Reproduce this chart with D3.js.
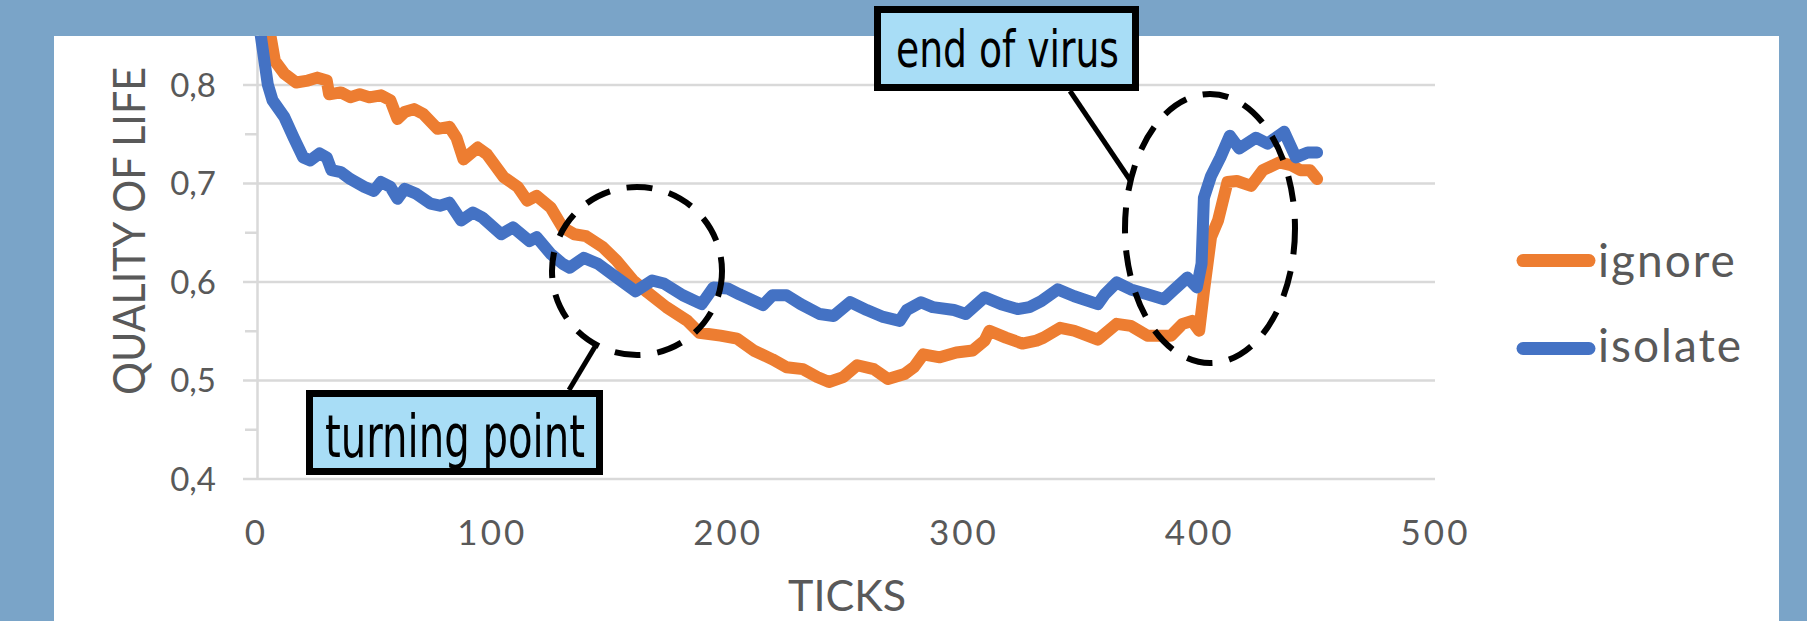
<!DOCTYPE html>
<html>
<head>
<meta charset="utf-8">
<script src="https://cdn.jsdelivr.net/npm/d3@7"></script>
<style>
  html, body { margin: 0; padding: 0; background: #7aa4c8; overflow: hidden; }
</style>
</head>
<body>
<div class="container"></div>
<script>
// chart data
const xTicks = [0, 100, 200, 300, 400, 500];
const yTicks = [0.4, 0.5, 0.6, 0.7, 0.8];
const yMinorTicks = [0.45, 0.55, 0.65, 0.75];
const seriesNames = ["ignore", "isolate"];

const ignoreTicks = [0, 5, 8, 12, 17, 22, 26, 30, 31, 36, 40, 44, 48, 53, 57, 60, 63, 67, 71, 77, 82, 85, 88, 94, 98,
  105, 111, 115, 119, 125, 130, 135, 140, 147, 153, 160, 166, 174, 183, 188, 197, 204, 211, 219, 225, 232, 238, 243,
  249, 255, 262, 268, 275, 279, 283, 290, 297, 304, 309, 311, 318, 325, 331, 334, 341, 347, 357, 365, 371, 378, 388,
  393, 397, 400, 402, 405, 408, 412, 416, 422, 427, 434, 439, 443, 447, 450];
const ignoreValues = [0.95, 0.865, 0.824, 0.811, 0.802, 0.804, 0.807, 0.804, 0.79, 0.792, 0.787, 0.79, 0.787, 0.789,
  0.784, 0.765, 0.772, 0.775, 0.77, 0.755, 0.757, 0.746, 0.724, 0.736, 0.729,
  0.706, 0.696, 0.682, 0.687, 0.675, 0.655, 0.648, 0.646, 0.635, 0.621, 0.601, 0.589, 0.574, 0.56, 0.548, 0.545, 0.542,
  0.53, 0.521, 0.513, 0.511, 0.503, 0.498,
  0.503, 0.515, 0.511, 0.501, 0.506, 0.513, 0.526, 0.523, 0.528, 0.53, 0.54, 0.55, 0.543, 0.537, 0.54, 0.543, 0.553,
  0.55, 0.541, 0.557, 0.555, 0.545, 0.545,
  0.557, 0.56, 0.55, 0.59, 0.645, 0.662, 0.701, 0.702, 0.697, 0.713, 0.721, 0.718, 0.713, 0.713, 0.704];

const isolateTicks = [0, 2, 5, 7, 12, 16, 20, 23, 27, 30, 32, 36, 40, 46, 50, 53, 57, 60, 63, 68, 74, 78, 82, 87, 92, 96,
  104, 109, 116, 119, 125, 130, 133, 139, 145, 153, 161, 168, 173, 181, 189, 194, 200, 205, 215, 219, 225, 231, 239,
  245, 252, 259, 266, 273, 276, 282, 287, 296, 301, 309, 316, 323, 328, 333, 340, 347, 357, 360, 365, 371, 378, 385,
  389, 395, 399, 401, 402, 405, 409, 413, 417, 424, 429, 436, 441, 446, 450];
const isolateValues = [0.9, 0.85, 0.8, 0.784, 0.767, 0.746, 0.726, 0.723, 0.73, 0.726, 0.713, 0.711, 0.704, 0.696, 0.692,
  0.701, 0.696, 0.684, 0.694, 0.689, 0.679, 0.677, 0.68, 0.662, 0.67, 0.665,
  0.648, 0.655, 0.641, 0.645, 0.628, 0.618, 0.614, 0.624, 0.618, 0.604, 0.59, 0.601, 0.598, 0.586, 0.577, 0.594, 0.593,
  0.587, 0.576, 0.586, 0.586, 0.577, 0.567,
  0.565, 0.579, 0.571, 0.564, 0.56, 0.571, 0.579, 0.574, 0.571, 0.567, 0.584, 0.577, 0.572, 0.574, 0.58, 0.592, 0.585,
  0.577, 0.587, 0.599, 0.592, 0.587, 0.582,
  0.591, 0.604, 0.594, 0.618, 0.685, 0.707, 0.726, 0.748, 0.735, 0.746, 0.74, 0.752, 0.726, 0.731, 0.731];

const width = 1807;
const height = 621;
const panel = { left: 54, top: 36, right: 1779 };
const gray = "#595959";
const gridColor = "#d9d9d9";
const colors = ["#ed7d31", "#4472c4"];

const svg = d3.select("div.container")
  .append("svg")
  .attr("width", width)
  .attr("height", height)
  .style("display", "block");

// slide background + white chart panel
svg.append("rect").attr("width", width).attr("height", height).attr("fill", "#7aa4c8");
svg.append("rect")
  .attr("x", panel.left).attr("y", panel.top)
  .attr("width", panel.right - panel.left).attr("height", height - panel.top)
  .attr("fill", "#fff");

// scales
const xScale = d3.scaleLinear().domain([0, 500]).range([256, 1435]);
const yScale = d3.scaleLinear().domain([0.4, 0.85]).range([478.5, 35.25]);

// gridlines (drawn from the right edge leftwards past the axis)
svg.append("g")
  .attr("transform", `translate(${xScale(500)},0)`)
  .call(d3.axisLeft(yScale).tickValues(yTicks).tickSize(xScale(500) - 243).tickFormat(""))
  .call(g => g.select(".domain").remove())
  .call(g => g.selectAll("line").attr("stroke", gridColor).attr("stroke-width", 2.5));

// minor ticks
svg.append("g")
  .attr("transform", "translate(257,0)")
  .call(d3.axisLeft(yScale).tickValues(yMinorTicks).tickSize(12).tickFormat(""))
  .call(g => g.select(".domain").remove())
  .call(g => g.selectAll("line").attr("stroke", gridColor).attr("stroke-width", 2.5));

// y axis + labels
svg.append("g")
  .attr("transform", "translate(257,0)")
  .call(d3.axisLeft(yScale).tickValues(yTicks).tickSize(0).tickSizeOuter(0).tickPadding(41)
    .tickFormat(d => d3.format(".1f")(d).replace(".", ",")))
  .call(g => g.select(".domain").attr("stroke", gridColor).attr("stroke-width", 2.5))
  .call(g => g.selectAll("text")
    .attr("fill", gray).attr("font-family", "Lato, 'Open Sans', sans-serif").attr("font-size", 33)
    .attr("dy", "0.36em"));

// x axis labels
svg.append("g")
  .attr("transform", `translate(0,${yScale(0.4)})`)
  .call(d3.axisBottom(xScale).tickValues(xTicks).tickSize(0))
  .call(g => g.select(".domain").remove())
  .call(g => g.selectAll("text")
    .attr("fill", gray).attr("font-family", "Lato, 'Open Sans', sans-serif").attr("font-size", 35)
    .attr("letter-spacing", 3).attr("y", 54).attr("dy", "0.36em"));

// axis titles
svg.append("text")
  .attr("x", 847).attr("y", 611)
  .attr("text-anchor", "middle")
  .attr("fill", gray).attr("font-family", "Lato, sans-serif").attr("font-size", 43)
  .text("TICKS");

svg.append("text")
  .attr("transform", "translate(145,231) rotate(-90)")
  .attr("text-anchor", "middle")
  .attr("fill", gray).attr("font-family", "Lato, sans-serif").attr("font-size", 45)
  .attr("textLength", 328).attr("lengthAdjust", "spacingAndGlyphs")
  .text("QUALITY OF LIFE");

// lines
const clip = svg.append("clipPath").attr("id", "plotclip");
clip.append("rect").attr("x", panel.left).attr("y", panel.top)
  .attr("width", panel.right - panel.left).attr("height", height - panel.top);

const line = d3.line().x(d => xScale(d[0])).y(d => yScale(d[1]));
const series = [d3.zip(ignoreTicks, ignoreValues), d3.zip(isolateTicks, isolateValues)];

svg.append("g").attr("clip-path", "url(#plotclip)")
  .selectAll("path").data(series).enter().append("path")
  .attr("d", line)
  .attr("fill", "none")
  .attr("stroke", (d, i) => colors[i])
  .attr("stroke-width", 12)
  .attr("stroke-linejoin", "round")
  .attr("stroke-linecap", "round");

// legend
const legend = svg.append("g").selectAll("g").data(seriesNames).enter().append("g")
  .attr("transform", (d, i) => `translate(0,${[260.6, 348.5][i]})`);
legend.append("line")
  .attr("x1", 1523).attr("x2", 1589)
  .attr("stroke", (d, i) => colors[i]).attr("stroke-width", 13).attr("stroke-linecap", "round");
legend.append("text")
  .attr("x", 1598).attr("y", (d, i) => [16.5, 13.5][i])
  .attr("fill", gray).attr("font-family", "Lato, sans-serif").attr("font-size", 46)
  .attr("letter-spacing", 2)
  .text(d => d);

// annotations
const ann = svg.append("g");
ann.append("ellipse")
  .attr("cx", 637).attr("cy", 271).attr("rx", 85).attr("ry", 84)
  .attr("fill", "none").attr("stroke", "#000").attr("stroke-width", 6).attr("stroke-dasharray", "26 17");
ann.append("ellipse")
  .attr("cx", 1210).attr("cy", 228.5).attr("rx", 85).attr("ry", 134.5)
  .attr("fill", "none").attr("stroke", "#000").attr("stroke-width", 6).attr("stroke-dasharray", "26 17");

ann.append("line").attr("x1", 569).attr("y1", 390).attr("x2", 596).attr("y2", 345)
  .attr("stroke", "#000").attr("stroke-width", 5);
ann.append("line").attr("x1", 1070).attr("y1", 91).attr("x2", 1130).attr("y2", 180)
  .attr("stroke", "#000").attr("stroke-width", 5);

const boxes = [
  { text: "turning point", x: 306, y: 390, w: 297, h: 85, tx: 325, ty: 457, tl: 260, fs: 58 },
  { text: "end of virus", x: 874, y: 6, w: 265, h: 85, tx: 896, ty: 67, tl: 223, fs: 52 }
];
boxes.forEach(b => {
  ann.append("rect")
    .attr("x", b.x + 3.5).attr("y", b.y + 3.5).attr("width", b.w - 7).attr("height", b.h - 7)
    .attr("fill", "#a8ddf6").attr("stroke", "#000").attr("stroke-width", 7);
  ann.append("text")
    .attr("x", b.tx).attr("y", b.ty)
    .attr("font-family", "'Liberation Sans Narrow', 'DejaVu Sans Condensed', sans-serif")
    .attr("font-size", b.fs)
    .attr("textLength", b.tl).attr("lengthAdjust", "spacingAndGlyphs")
    .attr("fill", "#000")
    .text(b.text);
});
</script>
</body>
</html>
